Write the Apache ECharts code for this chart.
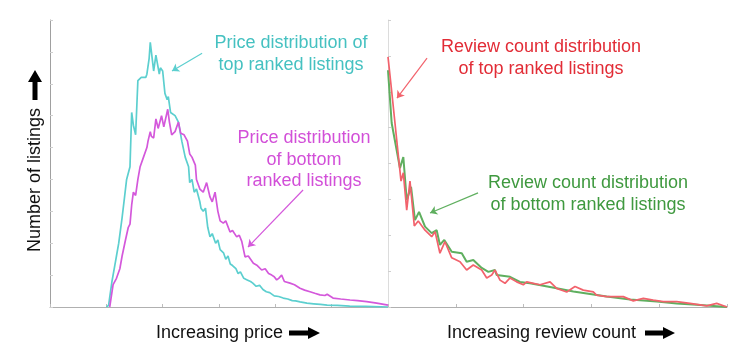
<!DOCTYPE html>
<html>
<head>
<meta charset="utf-8">
<script src="https://cdn.jsdelivr.net/npm/echarts@6/dist/echarts.min.js"></script>
<style>
  html, body { margin: 0; padding: 0; background: #fff; }
  #chart { width: 740px; height: 353px; }
</style>
</head>
<body>
<div id="chart"></div>
<script>
// price distribution (left panel), [price, listings]
var priceTop = [[50,0],[52,0.5],[55,8],[58,14],[59,16],[61,20],[64,28],[66,34],[68,40],[71,44],[72.5,61],[74,57],[76,54],[78,71],[81,72],[85,72],[86,73],[88,78],[89,83],[91,77],[92,74],[94,79],[95,77],[97,73],[98,75],[100,74],[102,67],[104,65],[105,66],[107,61],[111,60],[114,58],[117,52],[120,47],[123,44],[124,39],[126,40],[128,36],[130,37],[133,33],[134,31],[136,30],[138,31],[140,25],[142,22],[144,23],[147,20],[149,21],[151,18],[154,17],[156,15],[158,16],[160,13.5],[162,13],[165,12],[167,10.5],[169,11],[172,9],[175,8.5],[178,8],[180,7.5],[183,6.5],[186,6.8],[189,5.5],[192,4.8],[195,4.5],[199,3.5],[203,3.3],[207,2.8],[211,2.5],[215,2],[218,1.9],[222,1.6],[228,1.2],[234,1],[240,0.8],[246,0.6],[255,0.5],[266,0.3],[280,0.2],[300,0]];
var priceBottom = [[53,0],[56,7],[59,9],[62,12],[64,16],[67,21],[69.5,25],[71,26],[72.5,32],[74,36],[76,35],[78,40],[80,44],[83,47],[86,50],[87,52],[89,55],[90,53.5],[92,53],[94,59],[96,56],[99,60],[101,56.5],[104.5,62],[106,58],[108,54],[111,55],[114,58],[116,54.5],[119,54],[122,52],[124,48],[126,47],[129,44.5],[130,40],[133,37],[136,36],[139,39],[142,34.5],[144,33],[146.5,36],[149,30],[151,27],[153.8,26.3],[156,27],[159.8,23.5],[162,24],[165.7,22],[168,22.5],[170.2,20.6],[173.1,15.7],[176,16],[180.5,13.7],[184,13],[187.9,11.6],[191,12],[194,10.5],[196.8,10],[199,9.5],[201.2,8.5],[203,9],[205.6,10],[208,8],[213,7.5],[217,7],[221.9,5.9],[226,5.3],[230.8,4.8],[235,4.3],[239.6,3.8],[244,3.6],[246,4],[251.2,2.8],[258,2.5],[266.3,2.2],[273,2],[281.1,1.7],[290,1.2],[300,0.6]];

// review count distribution (right panel), [reviews, listings]
var reviewTop = [[0,69.7],[2.7,60.2],[7.6,42.3],[9.6,35.1],[11.3,37.4],[13.8,27],[16.2,35.1],[19.4,22.6],[22.3,24],[27.3,21.4],[32.2,19.6],[34.7,21],[38.3,15],[42,18.2],[47,13.7],[53.1,12.6],[58,10.3],[62.9,11.7],[69.1,10.3],[72.8,8.1],[76.5,8.9],[78.9,10.3],[82.6,7.5],[86.3,6.6],[90,8.1],[94.9,7],[99.8,6.2],[102.3,7],[107.2,6.6],[112.1,6.2],[119.5,7],[124.4,5.2],[131.8,4.2],[137.9,5.7],[144,4.7],[151.4,4.2],[153.8,3.3],[161.3,2.9],[173.5,2.9],[180.9,1.7],[188.3,2.4],[195.6,1.9],[203,1.5],[212.9,1.5],[222.7,1],[235,0.3],[242.4,1],[250,0]];
var reviewBottom = [[0,66],[2.7,51.3],[6.4,43.7],[8.8,38.7],[11.3,41.8],[13.8,29.8],[17,33.5],[19.9,24.2],[22.9,26.5],[27.3,22.4],[32.2,20.6],[35.9,21.4],[38.3,17.3],[41.5,18.7],[47,15.4],[54.4,15],[58,12.6],[62.9,13.1],[69.1,10.9],[74,9.8],[78.9,10.3],[80.2,8.9],[90,8.4],[97.3,7],[104.7,6.6],[124.4,5.2],[136.7,4.3],[149,3.6],[161.3,2.9],[178.5,2.1],[198.2,1.5],[212.9,1],[227.7,0.6],[250,0]];

// annotation arrows in data coordinates: [from, to]
var arrowPriceTop = [[135,79.6],[108.3,74]];
var arrowPriceBottom = [[224.6,36.7],[175.7,18.8]];
var arrowReviewTop = [[28.8,69.4],[6.6,58.2]];
var arrowReviewBottom = [[66.4,31.8],[31,26.2]];

var FONT = '18px "Liberation Sans", Arial, sans-serif';

function axisX(grid, max, interval) {
    return {
        type: 'value', gridIndex: grid, min: 0, max: max, interval: interval,
        axisLine: {show: true, onZero: false, lineStyle: {color: '#b0b0b0', width: 1}},
        axisTick: {show: true, inside: true, length: 3, lineStyle: {color: '#bdbdbd'}},
        axisLabel: {show: false},
        splitLine: {show: false}
    };
}
function axisY(grid, max, interval, lineColor) {
    return {
        type: 'value', gridIndex: grid, min: 0, max: max, interval: interval,
        axisLine: {show: true, onZero: false, lineStyle: {color: lineColor, width: 1}},
        axisTick: {show: true, inside: true, length: 3, lineStyle: {color: '#cfcfcf'}},
        axisLabel: {show: false},
        splitLine: {show: false}
    };
}
function arrowLine(a) {
    return {
        silent: true,
        symbol: ['none', 'arrow'],
        symbolSize: 7,
        label: {show: false},
        lineStyle: {type: 'solid', width: 1.2},
        emphasis: {disabled: true},
        data: [[{coord: a[0]}, {coord: a[1]}]]
    };
}
function curve(name, data, color, x, width, arrow) {
    return {
        name: name, type: 'line', data: data,
        xAxisIndex: x, yAxisIndex: x,
        showSymbol: false, symbol: 'none',
        color: color,
        lineStyle: {color: color, width: width},
        emphasis: {disabled: true},
        markLine: arrowLine(arrow)
    };
}

var myChart = echarts.init(document.getElementById('chart'));
myChart.setOption({
    animation: false,
    grid: [
        {left: 50, top: 20, width: 338, height: 287},
        {left: 388, top: 20, width: 339, height: 287}
    ],
    xAxis: [axisX(0, 300, 50), axisX(1, 250, 50)],
    yAxis: [axisY(0, 90, 10, '#a0a0a0'), axisY(1, 80, 10, '#dcdcdc')],
    series: [
        curve('Price top', priceTop, '#5ccfcf', 0, 1.7, arrowPriceTop),
        curve('Price bottom', priceBottom, '#d458db', 0, 1.7, arrowPriceBottom),
        curve('Review bottom', reviewBottom, '#5faf5f', 1, 2, arrowReviewBottom),
        curve('Review top', reviewTop, '#f2626c', 1, 1.7, arrowReviewTop)
    ],
    graphic: [
        {type: 'text', x: 291, y: 54, style: {text: 'Price distribution of\ntop ranked listings', fill: '#45c1c1', font: FONT, align: 'center', verticalAlign: 'middle', lineHeight: 22}},
        {type: 'text', x: 304, y: 160, style: {text: 'Price distribution\nof bottom\nranked listings', fill: '#d24fd8', font: FONT, align: 'center', verticalAlign: 'middle', lineHeight: 21.5}},
        {type: 'text', x: 541, y: 58, style: {text: 'Review count distribution\nof top ranked listings', fill: '#e22c36', font: FONT, align: 'center', verticalAlign: 'middle', lineHeight: 22}},
        {type: 'text', x: 588, y: 194, style: {text: 'Review count distribution\nof bottom ranked listings', fill: '#3f993f', font: FONT, align: 'center', verticalAlign: 'middle', lineHeight: 22}},
        // axis titles
        {type: 'text', x: 156, y: 333, style: {text: 'Increasing price', fill: '#111', font: FONT, align: 'left', verticalAlign: 'middle'}},
        {type: 'text', x: 447, y: 333, style: {text: 'Increasing review count', fill: '#111', font: FONT, align: 'left', verticalAlign: 'middle'}},
        {type: 'text', x: 35, y: 180, rotation: Math.PI / 2, style: {text: 'Number of listings', fill: '#111', font: FONT, align: 'center', verticalAlign: 'middle'}},
        // block arrows next to the titles
        {type: 'polygon', shape: {points: [[289,330.5],[308,330.5],[308,327],[320,333],[308,339],[308,335.5],[289,335.5]]}, style: {fill: '#000'}},
        {type: 'polygon', shape: {points: [[645,330.5],[663,330.5],[663,327],[675,333],[663,339],[663,335.5],[645,335.5]]}, style: {fill: '#000'}},
        {type: 'polygon', shape: {points: [[32.5,100],[32.5,82],[28,82],[35,70],[42,82],[37.5,82],[37.5,100]]}, style: {fill: '#000'}}
    ]
});
</script>
</body>
</html>
